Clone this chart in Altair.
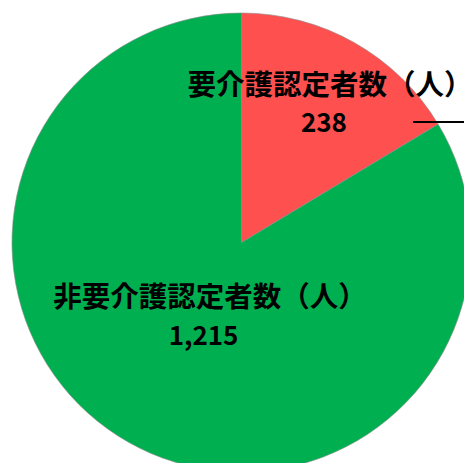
import altair as alt
import pandas as pd

categories = ["要介護認定者数（人）", "非要介護認定者数（人）"]
values = [238, 1215]
value_labels = ["238", "1,215"]
colors = ["#FF5050", "#00B050"]

df = pd.DataFrame({
    "cat": categories,
    "value": values,
    "vlabel": value_labels,
    "order": list(range(len(categories))),
})

CX, CY, R = 233.5, 234.5, 229.5

pie = alt.Chart(df).mark_arc(
    x=CX, y=CY, outerRadius=R,
    stroke="#8a8a8a", strokeWidth=1, strokeOpacity=0.6,
).encode(
    theta=alt.Theta("value:Q", stack=True),
    order=alt.Order("order:Q"),
    color=alt.Color("cat:N", scale=alt.Scale(domain=categories, range=colors), legend=None),
)

lab = alt.Chart(df).transform_joinaggregate(
    total="sum(value)"
).transform_window(
    cum="sum(value)", sort=[alt.SortField("order")]
).transform_calculate(
    mid="2*PI*(datum.cum - datum.value/2)/datum.total"
)

names = lab.transform_calculate(
    r=f"datum.cat == '{categories[0]}' ? 180 : 64",
).mark_text(
    x=CX, y=CY, dx=0,
    font="Noto Sans CJK JP", fontWeight="bold", fontSize=28.5,
    align="center", baseline="middle", color="#000000",
).encode(
    theta=alt.Theta("mid:Q", scale=None),
    radius=alt.Radius("r:Q", scale=None),
    text="cat:N",
)

numbers = lab.transform_calculate(
    r=f"datum.cat == '{categories[0]}' ? 136 : 108.6",
).mark_text(
    x=CX, y=CY, dx=15.5,
    font="Noto Sans CJK JP", fontWeight="bold", fontSize=26,
    align="center", baseline="middle", color="#000000",
).encode(
    theta=alt.Theta("mid:Q", scale=None),
    radius=alt.Radius("r:Q", scale=None),
    text="vlabel:N",
)

leader = alt.Chart(pd.DataFrame({"a": [0]})).mark_rule(
    color="#000000", strokeWidth=2
).encode(x=alt.value(405), x2=alt.value(456), y=alt.value(114))

chart = alt.layer(pie, names, numbers, leader).properties(
    width=456, height=455, padding=0,
    autosize=alt.AutoSizeParams(type="none"),
).configure_view(stroke=None)

chart.save("out.html", embed_options={"renderer": "svg", "actions": False})
